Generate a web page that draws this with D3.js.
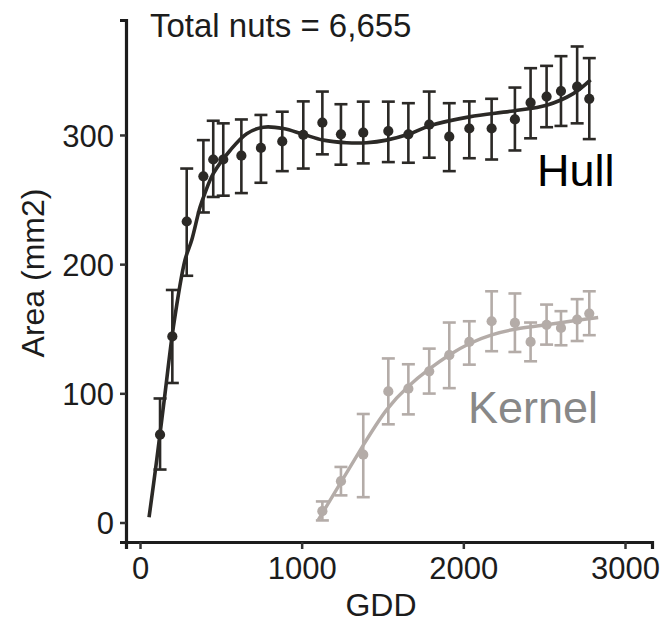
<!DOCTYPE html>
<html>
<head>
<meta charset="utf-8">
<script src="https://cdn.jsdelivr.net/npm/d3@7"></script>
<style>
  body { margin: 0; background: #fff; }
  text { font-family: "Liberation Sans", Arial, sans-serif; }
</style>
</head>
<body>
<div id="canvas"></div>
<script>
"use strict"

// GDD for every sampled date (hull uses all, kernel starts at 1128)
let gdd = [124, 200, 289, 392, 453, 515, 627, 748, 880, 1010, 1128, 1243, 1381, 1536,
    1660, 1789, 1913, 2037, 2175, 2319, 2416, 2515, 2604, 2704, 2779]

let hullMean = [68, 144, 233, 268, 281, 281, 284, 290, 295, 300, 309.5, 300.5, 301.8, 303,
    300.5, 308, 298.7, 305, 305, 312, 325, 329.7, 334, 337.4, 328]
let hullLow = [41, 108, 191, 240, 252, 253, 255, 263, 272, 274, 285, 277, 278, 279,
    278.5, 282.4, 272, 282, 281, 288, 297.4, 306, 307, 309, 296.8]
let hullHigh = [96, 180, 274, 296, 311, 309, 312, 315.5, 318, 326, 333.6, 323.8, 325.8, 325.8,
    324.6, 333.6, 324.6, 326, 328, 336.7, 351.7, 353.5, 361, 368.5, 359.5]

let kernelGdd = gdd.slice(10)
let kernelMean = [8.8, 32, 52.5, 101.5, 103.6, 117, 129.5, 139.8, 155.8, 154.5, 139.8, 153, 150.6, 157, 161.7]
let kernelLow = [1.6, 21, 19.6, 76, 83.7, 99.8, 104, 122.2, 132.6, 132, 124.8, 137.7, 137.2, 140.5, 145]
let kernelHigh = [16.3, 43, 84, 127, 122.5, 134.6, 154.8, 155.8, 179, 177.3, 154.8, 168.7, 163.6, 172.9, 179]

// smoothed fits
let hullFitGdd = [56, 103, 155, 206, 278, 320, 371, 402, 453, 557, 660, 763, 886, 1010, 1134,
    1278, 1402, 1525, 1660, 1789, 2037, 2309, 2515, 2680, 2787]
let hullFitArea = [4, 48, 100, 151, 203, 218.6, 244, 255, 270, 288, 301, 306, 305, 300.5, 296,
    294, 294, 296, 300.5, 307, 314, 318.6, 323, 332, 342.6]
let kernelFitGdd = [1103, 1237, 1381, 1526, 1660, 1789, 1913, 2037, 2175, 2319, 2515, 2704, 2834]
let kernelFitArea = [2, 30, 60, 89, 106, 119, 130, 139, 145.7, 150, 153, 156.6, 158.7]

let xTicks = [0, 1000, 2000, 3000]
let yTicks = [0, 100, 200, 300]

let svgWidth = 664
let svgHeight = 624

let hullColor = "#2b2926"
let kernelColor = "#b4aca8"

let svg = d3.select("#canvas")
    .append("svg")
    .attr("width", svgWidth)
    .attr("height", svgHeight)

let xScale = d3.scaleLinear()
    .domain([-86.6, 3167])
    .range([126, 652])

let yScale = d3.scaleLinear()
    .domain([-15.1, 389])
    .range([542, 20])

/* axes */
let xAxis = svg.append("g")
    .attr("transform", "translate(0,542)")
    .call(d3.axisBottom(xScale).tickValues(xTicks).tickFormat(d3.format("d"))
        .tickSizeOuter(0).tickSize(7).tickPadding(8))
let yAxis = svg.append("g")
    .attr("transform", "translate(126,0)")
    .call(d3.axisLeft(yScale).tickValues(yTicks).tickFormat(d3.format("d"))
        .tickSizeOuter(0).tickSize(6).tickPadding(6))

;[xAxis, yAxis].forEach(function (ax) {
    ax.select(".domain").attr("stroke", "#1c1c1c").attr("stroke-width", 3.2)
    ax.selectAll(".tick line").attr("stroke", "#333").attr("stroke-width", 2.5)
    ax.selectAll(".tick text")
        .attr("fill", "#1c1c1c")
        .attr("font-size", 31)
        .attr("font-family", "Liberation Sans, Arial, sans-serif")
})
xAxis.selectAll(".tick text").attr("dy", "0.72em")
yAxis.selectAll(".tick text").attr("dy", "0.36em")

/* axis titles */
svg.append("text")
    .attr("x", 381)
    .attr("y", 616)
    .attr("text-anchor", "middle")
    .attr("font-size", 32)
    .attr("fill", "#1c1c1c")
    .text("GDD")

svg.append("text")
    .attr("transform", "rotate(-90)")
    .attr("x", -273)
    .attr("y", 44)
    .attr("text-anchor", "middle")
    .attr("font-size", 32)
    .attr("fill", "#1c1c1c")
    .text("Area (mm2)")

/* one series: error bars, points, fitted line */
function drawSeries(xs, mean, low, high, fitX, fitY, color, lineWidth, curve) {
    let g = svg.append("g")

    let bars = g.selectAll("g.bar")
        .data(xs.map(function (x, i) { return { x: x, m: mean[i], lo: low[i], hi: high[i] } }))
        .enter()
        .append("g")
        .attr("class", "bar")
        .attr("stroke", color)
        .attr("stroke-width", 2.6)

    bars.append("line")
        .attr("x1", function (d) { return xScale(d.x) })
        .attr("x2", function (d) { return xScale(d.x) })
        .attr("y1", function (d) { return yScale(d.lo) })
        .attr("y2", function (d) { return yScale(d.hi) })
    bars.append("line")
        .attr("x1", function (d) { return xScale(d.x) - 6.5 })
        .attr("x2", function (d) { return xScale(d.x) + 6.5 })
        .attr("y1", function (d) { return yScale(d.lo) })
        .attr("y2", function (d) { return yScale(d.lo) })
    bars.append("line")
        .attr("x1", function (d) { return xScale(d.x) - 6.5 })
        .attr("x2", function (d) { return xScale(d.x) + 6.5 })
        .attr("y1", function (d) { return yScale(d.hi) })
        .attr("y2", function (d) { return yScale(d.hi) })

    let line = d3.line()
        .x(function (d) { return xScale(d[0]) })
        .y(function (d) { return yScale(d[1]) })
        .curve(curve)

    g.append("path")
        .datum(fitX.map(function (x, i) { return [x, fitY[i]] }))
        .attr("d", line)
        .attr("fill", "none")
        .attr("stroke", color)
        .attr("stroke-width", lineWidth)
        .attr("stroke-linecap", "butt")

    g.selectAll("circle")
        .data(xs.map(function (x, i) { return [x, mean[i]] }))
        .enter()
        .append("circle")
        .attr("cx", function (d) { return xScale(d[0]) })
        .attr("cy", function (d) { return yScale(d[1]) })
        .attr("r", 5.1)
        .attr("fill", color)
}

drawSeries(kernelGdd, kernelMean, kernelLow, kernelHigh, kernelFitGdd, kernelFitArea,
    kernelColor, 3.4, d3.curveBasis)
drawSeries(gdd, hullMean, hullLow, hullHigh, hullFitGdd, hullFitArea,
    hullColor, 3.6, d3.curveCatmullRom.alpha(0.5))

/* labels */
svg.append("text")
    .attr("x", 150)
    .attr("y", 37)
    .attr("font-size", 33)
    .attr("fill", "#1c1c1c")
    .text("Total nuts = 6,655")

svg.append("text")
    .attr("x", 537)
    .attr("y", 186)
    .attr("font-size", 45)
    .attr("fill", "#000")
    .text("Hull")

svg.append("text")
    .attr("x", 468)
    .attr("y", 423)
    .attr("font-size", 45)
    .attr("fill", "#888888")
    .text("Kernel")
</script>
</body>
</html>
